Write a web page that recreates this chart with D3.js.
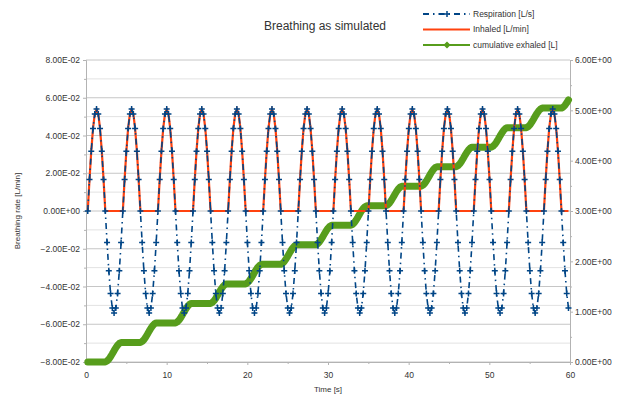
<!DOCTYPE html>
<html>
<head>
<meta charset="utf-8">
<script src="https://cdn.jsdelivr.net/npm/d3@7"></script>
<style>
  body { margin: 0; background: #fff; }
  .chart { width: 621px; height: 394px; }
  text { font-family: "Liberation Sans", Arial, sans-serif; fill: #333; }
  .axis path, .axis line { stroke: #b3b3b3; }
  .axis text { font-size: 8.5px; fill: #333; }
</style>
</head>
<body>
<div class="chart"></div>
<script>
// sample clock of the simulation [s]
const startTime = 0.2175;
const timeStep = 0.2175;

// Respiration [L/s], one value per sample
const respiration = [
  0, 0.0167, 0.0317, 0.0437, 0.0514, 0.054, 0.0514, 0.0437, 0.0317, 0.0167, 0, -0.0167, -0.0317, -0.0437, -0.0514, -0.054, -0.0514, -0.0437, -0.0317, -0.0167,
  0, 0.0167, 0.0317, 0.0437, 0.0514, 0.054, 0.0514, 0.0437, 0.0317, 0.0167, 0, -0.0167, -0.0317, -0.0437, -0.0514, -0.054, -0.0514, -0.0437, -0.0317, -0.0167,
  0, 0.0167, 0.0317, 0.0437, 0.0514, 0.054, 0.0514, 0.0437, 0.0317, 0.0167, 0, -0.0167, -0.0317, -0.0437, -0.0514, -0.054, -0.0514, -0.0437, -0.0317, -0.0167,
  0, 0.0167, 0.0317, 0.0437, 0.0514, 0.054, 0.0514, 0.0437, 0.0317, 0.0167, 0, -0.0167, -0.0317, -0.0437, -0.0514, -0.054, -0.0514, -0.0437, -0.0317, -0.0167,
  0, 0.0167, 0.0317, 0.0437, 0.0514, 0.054, 0.0514, 0.0437, 0.0317, 0.0167, 0, -0.0167, -0.0317, -0.0437, -0.0514, -0.054, -0.0514, -0.0437, -0.0317, -0.0167,
  0, 0.0167, 0.0317, 0.0437, 0.0514, 0.054, 0.0514, 0.0437, 0.0317, 0.0167, 0, -0.0167, -0.0317, -0.0437, -0.0514, -0.054, -0.0514, -0.0437, -0.0317, -0.0167,
  0, 0.0167, 0.0317, 0.0437, 0.0514, 0.054, 0.0514, 0.0437, 0.0317, 0.0167, 0, -0.0167, -0.0317, -0.0437, -0.0514, -0.054, -0.0514, -0.0437, -0.0317, -0.0167,
  0, 0.0167, 0.0317, 0.0437, 0.0514, 0.054, 0.0514, 0.0437, 0.0317, 0.0167, 0, -0.0167, -0.0317, -0.0437, -0.0514, -0.054, -0.0514, -0.0437, -0.0317, -0.0167,
  0, 0.0167, 0.0317, 0.0437, 0.0514, 0.054, 0.0514, 0.0437, 0.0317, 0.0167, 0, -0.0167, -0.0317, -0.0437, -0.0514, -0.054, -0.0514, -0.0437, -0.0317, -0.0167,
  0, 0.0167, 0.0317, 0.0437, 0.0514, 0.054, 0.0514, 0.0437, 0.0317, 0.0167, 0, -0.0167, -0.0317, -0.0437, -0.0514, -0.054, -0.0514, -0.0437, -0.0317, -0.0167,
  0, 0.0167, 0.0317, 0.0437, 0.0514, 0.054, 0.0514, 0.0437, 0.0317, 0.0167, 0, -0.0167, -0.0317, -0.0437, -0.0514, -0.054, -0.0514, -0.0437, -0.0317, -0.0167,
  0, 0.0167, 0.0317, 0.0437, 0.0514, 0.054, 0.0514, 0.0437, 0.0317, 0.0167, 0, -0.0167, -0.0317, -0.0437, -0.0514, -0.054, -0.0514, -0.0437, -0.0317, -0.0167,
  0, 0.0167, 0.0317, 0.0437, 0.0514, 0.054, 0.0514, 0.0437, 0.0317, 0.0167, 0, -0.0167, -0.0317, -0.0437, -0.0514, -0.054, -0.0514, -0.0437, -0.0317, -0.0167,
  0, 0.0167, 0.0317, 0.0437, 0.0514, 0.054, 0.0514, 0.0437, 0.0317, 0.0167, 0, -0.0167, -0.0317, -0.0437, -0.0514
];

// Inhaled [L/min]
const inhaled = [
  0, 0.0167, 0.0317, 0.0437, 0.0514, 0.054, 0.0514, 0.0437, 0.0317, 0.0167, 0, 0, 0, 0, 0, 0, 0, 0, 0, 0,
  0, 0.0167, 0.0317, 0.0437, 0.0514, 0.054, 0.0514, 0.0437, 0.0317, 0.0167, 0, 0, 0, 0, 0, 0, 0, 0, 0, 0,
  0, 0.0167, 0.0317, 0.0437, 0.0514, 0.054, 0.0514, 0.0437, 0.0317, 0.0167, 0, 0, 0, 0, 0, 0, 0, 0, 0, 0,
  0, 0.0167, 0.0317, 0.0437, 0.0514, 0.054, 0.0514, 0.0437, 0.0317, 0.0167, 0, 0, 0, 0, 0, 0, 0, 0, 0, 0,
  0, 0.0167, 0.0317, 0.0437, 0.0514, 0.054, 0.0514, 0.0437, 0.0317, 0.0167, 0, 0, 0, 0, 0, 0, 0, 0, 0, 0,
  0, 0.0167, 0.0317, 0.0437, 0.0514, 0.054, 0.0514, 0.0437, 0.0317, 0.0167, 0, 0, 0, 0, 0, 0, 0, 0, 0, 0,
  0, 0.0167, 0.0317, 0.0437, 0.0514, 0.054, 0.0514, 0.0437, 0.0317, 0.0167, 0, 0, 0, 0, 0, 0, 0, 0, 0, 0,
  0, 0.0167, 0.0317, 0.0437, 0.0514, 0.054, 0.0514, 0.0437, 0.0317, 0.0167, 0, 0, 0, 0, 0, 0, 0, 0, 0, 0,
  0, 0.0167, 0.0317, 0.0437, 0.0514, 0.054, 0.0514, 0.0437, 0.0317, 0.0167, 0, 0, 0, 0, 0, 0, 0, 0, 0, 0,
  0, 0.0167, 0.0317, 0.0437, 0.0514, 0.054, 0.0514, 0.0437, 0.0317, 0.0167, 0, 0, 0, 0, 0, 0, 0, 0, 0, 0,
  0, 0.0167, 0.0317, 0.0437, 0.0514, 0.054, 0.0514, 0.0437, 0.0317, 0.0167, 0, 0, 0, 0, 0, 0, 0, 0, 0, 0,
  0, 0.0167, 0.0317, 0.0437, 0.0514, 0.054, 0.0514, 0.0437, 0.0317, 0.0167, 0, 0, 0, 0, 0, 0, 0, 0, 0, 0,
  0, 0.0167, 0.0317, 0.0437, 0.0514, 0.054, 0.0514, 0.0437, 0.0317, 0.0167, 0, 0, 0, 0, 0, 0, 0, 0, 0, 0,
  0, 0.0167, 0.0317, 0.0437, 0.0514, 0.054, 0.0514, 0.0437, 0.0317, 0.0167, 0, 0, 0, 0, 0
];

// cumulative exhaled [L] (right axis)
const exhaled = [
  0, 0, 0, 0, 0, 0, 0, 0, 0, 0, 0, 0.019, 0.055, 0.105, 0.163, 0.225, 0.283, 0.333, 0.369, 0.388,
  0.388, 0.388, 0.388, 0.388, 0.388, 0.388, 0.388, 0.388, 0.388, 0.388, 0.388, 0.407, 0.443, 0.493, 0.551, 0.613, 0.671, 0.721, 0.757, 0.776,
  0.776, 0.776, 0.776, 0.776, 0.776, 0.776, 0.776, 0.776, 0.776, 0.776, 0.776, 0.795, 0.831, 0.881, 0.939, 1.001, 1.059, 1.109, 1.145, 1.164,
  1.164, 1.164, 1.164, 1.164, 1.164, 1.164, 1.164, 1.164, 1.164, 1.164, 1.164, 1.183, 1.219, 1.269, 1.327, 1.389, 1.447, 1.497, 1.533, 1.552,
  1.552, 1.552, 1.552, 1.552, 1.552, 1.552, 1.552, 1.552, 1.552, 1.552, 1.552, 1.571, 1.607, 1.657, 1.715, 1.777, 1.835, 1.885, 1.921, 1.940,
  1.940, 1.940, 1.940, 1.940, 1.940, 1.940, 1.940, 1.940, 1.940, 1.940, 1.940, 1.959, 1.995, 2.045, 2.103, 2.165, 2.223, 2.273, 2.309, 2.328,
  2.328, 2.328, 2.328, 2.328, 2.328, 2.328, 2.328, 2.328, 2.328, 2.328, 2.328, 2.347, 2.383, 2.433, 2.491, 2.553, 2.611, 2.661, 2.697, 2.716,
  2.716, 2.716, 2.716, 2.716, 2.716, 2.716, 2.716, 2.716, 2.716, 2.716, 2.716, 2.735, 2.771, 2.821, 2.879, 2.941, 2.999, 3.049, 3.085, 3.104,
  3.104, 3.104, 3.104, 3.104, 3.104, 3.104, 3.104, 3.104, 3.104, 3.104, 3.104, 3.123, 3.159, 3.209, 3.267, 3.329, 3.387, 3.437, 3.473, 3.492,
  3.492, 3.492, 3.492, 3.492, 3.492, 3.492, 3.492, 3.492, 3.492, 3.492, 3.492, 3.511, 3.547, 3.597, 3.655, 3.717, 3.775, 3.825, 3.861, 3.880,
  3.880, 3.880, 3.880, 3.880, 3.880, 3.880, 3.880, 3.880, 3.880, 3.880, 3.880, 3.899, 3.935, 3.985, 4.043, 4.105, 4.163, 4.213, 4.249, 4.268,
  4.268, 4.268, 4.268, 4.268, 4.268, 4.268, 4.268, 4.268, 4.268, 4.268, 4.268, 4.287, 4.323, 4.373, 4.431, 4.493, 4.551, 4.601, 4.637, 4.656,
  4.656, 4.656, 4.656, 4.656, 4.656, 4.656, 4.656, 4.656, 4.656, 4.656, 4.656, 4.675, 4.711, 4.761, 4.819, 4.881, 4.939, 4.989, 5.025, 5.044,
  5.044, 5.044, 5.044, 5.044, 5.044, 5.044, 5.044, 5.044, 5.044, 5.044, 5.044, 5.063, 5.099, 5.149, 5.207
];

const seriesNames = ['Respiration [L/s]', 'Inhaled [L/min]', 'cumulative exhaled [L]'];
const leftTicks = [-0.08, -0.06, -0.04, -0.02, 0, 0.02, 0.04, 0.06, 0.08];
const rightTicks = [0, 1, 2, 3, 4, 5, 6];
const timeTicks = [0, 10, 20, 30, 40, 50, 60];

// 8.00E-02 style labels
function sciLabel (v) {
  let parts = d3.format('.2e')(v).split('e');
  let exp = +parts[1];
  return parts[0] + 'E' + (exp < 0 ? '-' : '+') + String(Math.abs(exp)).padStart(2, '0');
}

let chart = {
  svg: {},
  x: {},
  yLeft: {},
  yRight: {},
  config: {
    svgW: 621,
    svgH: 394,
    top: 60,
    right: 51,
    bottom: 32,
    left: 86,
    blue: '#004586',
    orange: '#ff420e',
    green: '#579d1c',
    dash: '6,4,1.5,4'
  },
  init: function () {
    this.svg = d3.select('.chart').append('svg')
      .attr('width', this.config.svgW)
      .attr('height', this.config.svgH);
    this.axes();
    this.lines();
    this.legend();
  },
  axes: function () {
    let c = this.config;
    let w = c.svgW - c.left - c.right;
    let h = c.svgH - c.top - c.bottom;
    this.x = d3.scaleLinear().domain([0, 60]).range([c.left, c.left + w]);
    this.yLeft = d3.scaleLinear().domain([-0.08, 0.08]).range([c.top + h, c.top]);
    this.yRight = d3.scaleLinear().domain([0, 6]).range([c.top + h, c.top]);

    // horizontal grid, every 1E-02
    let minor = d3.range(-0.08, 0.0801, 0.01);
    this.svg.append('g').attr('class', 'grid')
      .selectAll('line').data(minor).enter().append('line')
      .attr('x1', c.left).attr('x2', c.left + w)
      .attr('y1', d => this.yLeft(d)).attr('y2', d => this.yLeft(d))
      .attr('stroke', (d, i) => i % 2 === 0 ? '#c6c6c6' : '#e2e2e2')
      .attr('stroke-width', 1);

    // left axis
    this.svg.append('g').attr('class', 'axis')
      .attr('transform', `translate(${c.left},0)`)
      .call(d3.axisLeft(this.yLeft).tickValues(leftTicks).tickFormat(sciLabel).tickSize(3).tickPadding(3));
    // right axis
    this.svg.append('g').attr('class', 'axis')
      .attr('transform', `translate(${c.left + w},0)`)
      .call(d3.axisRight(this.yRight).tickValues(rightTicks).tickFormat(sciLabel).tickSize(3).tickPadding(2));
    // bottom axis
    this.svg.append('g').attr('class', 'axis')
      .attr('transform', `translate(0,${c.top + h})`)
      .call(d3.axisBottom(this.x).tickValues(timeTicks).tickFormat(d3.format('d')).tickSize(3).tickPadding(7));
    // minor ticks
    this.svg.append('g').attr('class', 'axis')
      .attr('transform', `translate(0,${c.top + h})`)
      .call(d3.axisBottom(this.x).tickValues([5, 15, 25, 35, 45, 55]).tickFormat('').tickSize(2))
      .select('.domain').remove();
    this.svg.append('g').attr('class', 'axis')
      .attr('transform', `translate(${c.left},0)`)
      .call(d3.axisLeft(this.yLeft).tickValues(minor.filter((d, i) => i % 2 === 1)).tickFormat('').tickSize(2))
      .select('.domain').remove();
    this.svg.append('g').attr('class', 'axis')
      .attr('transform', `translate(${c.left + w},0)`)
      .call(d3.axisRight(this.yRight).tickValues([0.5, 1.5, 2.5, 3.5, 4.5, 5.5]).tickFormat('').tickSize(2))
      .select('.domain').remove();

    // titles
    this.svg.append('text')
      .attr('x', 325).attr('y', 30)
      .attr('text-anchor', 'middle')
      .style('font-size', '12px')
      .text('Breathing as simulated');
    this.svg.append('text')
      .attr('transform', `translate(17,${this.yLeft(0)}) rotate(-90)`)
      .attr('text-anchor', 'middle')
      .attr('dy', '0.35em')
      .style('font-size', '8px')
      .text('Breathing rate [L/min]');
    this.svg.append('text')
      .attr('x', c.left + w / 2).attr('y', 392)
      .attr('text-anchor', 'middle')
      .style('font-size', '8px')
      .text('Time [s]');
  },
  lines: function () {
    let c = this.config;
    let t = i => this.x(startTime + i * timeStep);

    // cumulative exhaled, thick green
    this.svg.append('path')
      .datum(exhaled)
      .attr('fill', 'none')
      .attr('stroke', c.green)
      .attr('stroke-width', 7)
      .attr('stroke-linejoin', 'round')
      .attr('stroke-linecap', 'round')
      .attr('d', d3.line().x((d, i) => t(i)).y(d => this.yRight(d)));

    // inhaled, orange
    this.svg.append('path')
      .datum(inhaled)
      .attr('fill', 'none')
      .attr('stroke', c.orange)
      .attr('stroke-width', 2.2)
      .attr('d', d3.line().x((d, i) => t(i)).y(d => this.yLeft(d)));

    // respiration, dashed blue with + markers
    this.svg.append('path')
      .datum(respiration)
      .attr('fill', 'none')
      .attr('stroke', c.blue)
      .attr('stroke-width', 1.6)
      .attr('stroke-dasharray', c.dash)
      .attr('d', d3.line().x((d, i) => t(i)).y(d => this.yLeft(d)));

    this.svg.append('g')
      .selectAll('path.mark')
      .data(respiration)
      .enter()
      .append('path')
      .attr('class', 'mark')
      .attr('transform', (d, i) => `translate(${t(i)},${this.yLeft(d)})`)
      .attr('d', 'M-3,0H3M0,-3V3')
      .attr('stroke', c.blue)
      .attr('stroke-width', 1.5);
  },
  legend: function () {
    let c = this.config;
    let rows = [
      { name: seriesNames[0], color: c.blue, dash: c.dash, mark: 'M-3,0H3M0,-3V3' },
      { name: seriesNames[1], color: c.orange, dash: null, mark: null },
      { name: seriesNames[2], color: c.green, dash: null, mark: 'M0,-2.5L2.5,0L0,2.5L-2.5,0Z' }
    ];
    let g = this.svg.append('g').attr('class', 'legend')
      .selectAll('g').data(rows).enter().append('g')
      .attr('transform', (d, i) => `translate(423,${14 + i * 15.5})`);
    g.append('line')
      .attr('x1', 0).attr('x2', 47)
      .attr('stroke', d => d.color)
      .attr('stroke-width', 2)
      .attr('stroke-dasharray', d => d.dash);
    g.filter(d => d.mark).append('path')
      .attr('transform', 'translate(24,0)')
      .attr('d', d => d.mark)
      .attr('fill', d => d.color)
      .attr('stroke', d => d.color)
      .attr('stroke-width', 1.5);
    g.append('text')
      .attr('x', 50).attr('dy', '0.35em')
      .style('font-size', '8.5px')
      .text(d => d.name);
  }
};

chart.init();
</script>
</body>
</html>
